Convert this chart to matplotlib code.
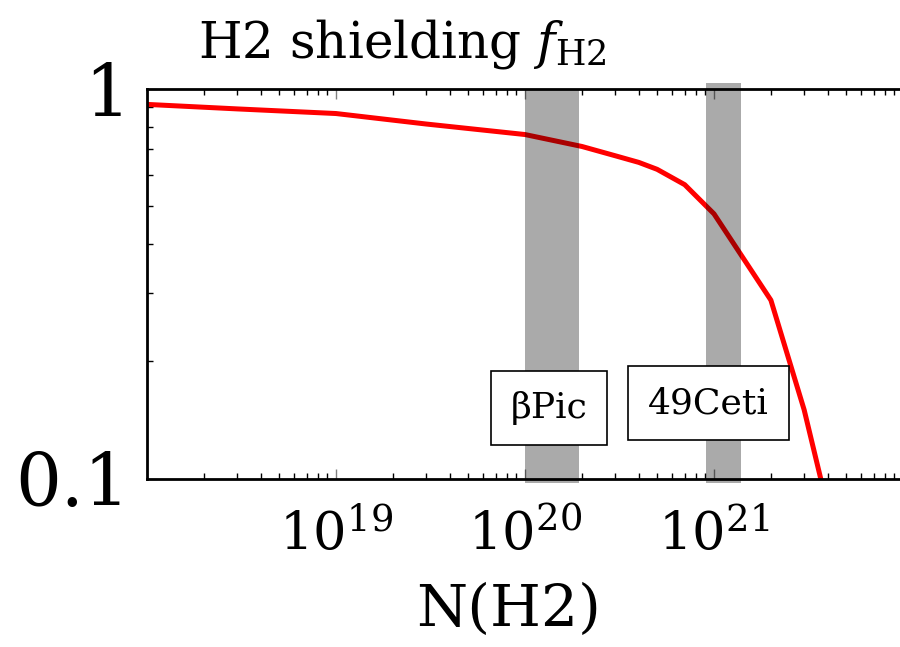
import matplotlib
matplotlib.use("Agg")
import matplotlib.pyplot as plt
from matplotlib.patches import Rectangle
from matplotlib.ticker import FixedLocator, LogLocator, NullFormatter

plt.rcParams["font.family"] = ["DejaVu Serif"]
plt.rcParams["mathtext.fontset"] = "dejavuserif"

# H2 column density [cm^-2] and shielding factor
column_density = [1e18, 3e18, 1e19, 3e19, 1e20, 2e20, 3e20, 4e20, 5e20,
                  7e20, 1e21, 2e21, 3e21, 4e21]
shielding = [0.913, 0.889, 0.865, 0.813, 0.764, 0.712, 0.674, 0.648, 0.622,
             0.568, 0.478, 0.287, 0.150, 0.084]

# column-density ranges of the two debris discs
disc_names = ["βPic", "49Ceti"]
disc_lo = [1.0e20, 0.91e21]
disc_hi = [1.93e20, 1.39e21]
disc_top = [0.995, 1.035]
label_x = [1.34e20, 9.35e20]
label_y = [0.152, 0.156]

x_ticks = [1e19, 1e20, 1e21]
x_ticklabels = [r"$10^{19}$", r"$10^{20}$", r"$10^{21}$"]
y_ticks = [0.1, 1]
y_ticklabels = ["0.1", "1"]

fig = plt.figure(figsize=(9.0, 6.47), dpi=100)
ax = fig.add_axes([147 / 900, 1 - 478.5 / 647, 756 / 900, 389.5 / 647])

ax.plot(column_density, shielding, color="red", lw=3.6, zorder=2)

for lo, hi, top in zip(disc_lo, disc_hi, disc_top):
    ax.add_patch(Rectangle((lo, 0.0975), hi - lo, top - 0.0975,
                           facecolor="black", alpha=0.333, lw=0,
                           clip_on=False, zorder=3))

for name, x, y in zip(disc_names, label_x, label_y):
    ax.text(x, y, name, ha="center", va="center", fontsize=26, zorder=5,
            bbox=dict(boxstyle="square,pad=0.55", facecolor="white",
                      edgecolor="black", lw=1.2))

ax.set_xscale("log")
ax.set_yscale("log")
ax.set_xlim(1e18, 1e22)
ax.set_ylim(0.1, 1)

ax.xaxis.set_major_locator(FixedLocator(x_ticks))
ax.set_xticklabels(x_ticklabels, fontsize=38)
ax.xaxis.set_minor_locator(LogLocator(base=10, subs=range(2, 10), numticks=20))
ax.xaxis.set_minor_formatter(NullFormatter())
ax.yaxis.set_major_locator(FixedLocator(y_ticks))
ax.set_yticklabels(y_ticklabels, fontsize=52)
ax.yaxis.set_minor_locator(LogLocator(base=10, subs=range(2, 10), numticks=20))
ax.yaxis.set_minor_formatter(NullFormatter())

ax.tick_params(which="both", direction="in", top=True, right=False)
ax.tick_params(which="major", length=7, width=1, color="0.5")
ax.tick_params(axis="x", which="major", pad=22)
ax.tick_params(axis="y", which="major", pad=12)
ax.tick_params(which="minor", length=4, width=1, color="black")
for side in ["left", "bottom", "top", "right"]:
    ax.spines[side].set_linewidth(2)

fig.text(402 / 900, 1 - 44 / 647, r"H2 shielding $f_{\rm H2}$",
         ha="center", va="center", fontsize=36)
fig.text(509 / 900, 1 - 610 / 647, "N(H2)", ha="center", va="center",
         fontsize=42)

fig.savefig("out.png", dpi=100)
